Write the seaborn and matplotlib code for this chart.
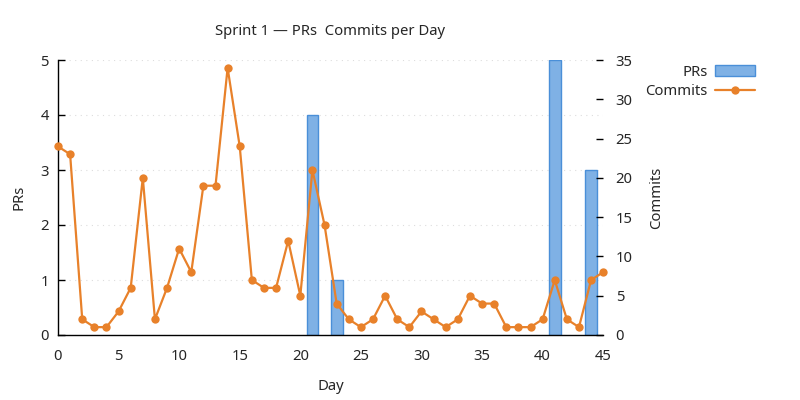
import numpy as np
import matplotlib
matplotlib.use("Agg")
import matplotlib.pyplot as plt
import seaborn as sns

days = list(range(46))
commits = [24, 23, 2, 1, 1, 3, 6, 20, 2, 6, 11, 8, 19, 19, 34, 24, 7, 6, 6, 12,
           5, 21, 14, 4, 2, 1, 2, 5, 2, 1, 3, 2, 1, 2, 5, 4, 4, 1, 1, 1,
           2, 7, 2, 1, 7, 8]
prs = [0] * 46
prs[21] = 4
prs[23] = 1
prs[41] = 5
prs[44] = 3

sns.set_style("white")
plt.rcParams["font.family"] = ["Noto Sans", "DejaVu Sans"]
plt.rcParams["font.size"] = 10.7

fig = plt.figure(figsize=(8, 4), dpi=100)
ax = fig.add_axes([0.0725, 0.1625, 0.6815, 0.6875])

# PR bars on the left axis (only days with PRs)
bar_days = [d for d, p in zip(days, prs) if p > 0]
bar_vals = [p for p in prs if p > 0]
ax.bar(bar_days, bar_vals, width=0.97, color="#7fb1e5", edgecolor="#4a8fd8",
       linewidth=1, label="PRs", zorder=2)
ax.set_xlim(0, 45)
ax.set_ylim(0, 5)
ax.set_xticks(range(0, 46, 5))
ax.set_yticks(range(0, 6))
ax.yaxis.grid(True, linestyle=(0, (1, 4)), color="#dddddd", linewidth=0.8)
ax.set_axisbelow(True)
ax.set_xlabel("Day", labelpad=11)
ax.set_ylabel("PRs", labelpad=10)
ax.tick_params(direction="in", length=5, width=1, color="black")
ax.tick_params(axis="x", pad=10)
ax.tick_params(axis="y", pad=6.5)
for s in ["top", "right"]:
    ax.spines[s].set_visible(False)
for s in ["left", "bottom"]:
    ax.spines[s].set_color("black")
    ax.spines[s].set_linewidth(1)

# commits line on the right axis
ax2 = ax.twinx()
sns.lineplot(x=days, y=commits, ax=ax2, color="#e8812a", linewidth=1.6,
             marker="o", markersize=6, markeredgewidth=0, label="Commits",
             clip_on=False, zorder=3)
ax2.set_ylim(0, 35)
ax2.set_yticks(range(0, 36, 5))
ax2.set_ylabel("Commits", labelpad=12)
ax2.tick_params(direction="in", length=5, width=1, color="black", pad=9)
for s in ["top", "right", "left", "bottom"]:
    ax2.spines[s].set_visible(False)
ax2.get_legend().remove()

h1, l1 = ax.get_legend_handles_labels()
h2, l2 = ax2.get_legend_handles_labels()
fig.legend(h1 + h2, l1 + l2, loc="upper right", bbox_to_anchor=(0.961, 0.872),
           frameon=False, markerfirst=False, handlelength=2.7, fontsize=10.7,
           labelspacing=0.32, handletextpad=0.5)

fig.suptitle("Sprint 1 \u2014 PRs  Commits per Day", x=0.413, y=0.94, fontsize=10.7)

fig.savefig("out.png", dpi=100)
